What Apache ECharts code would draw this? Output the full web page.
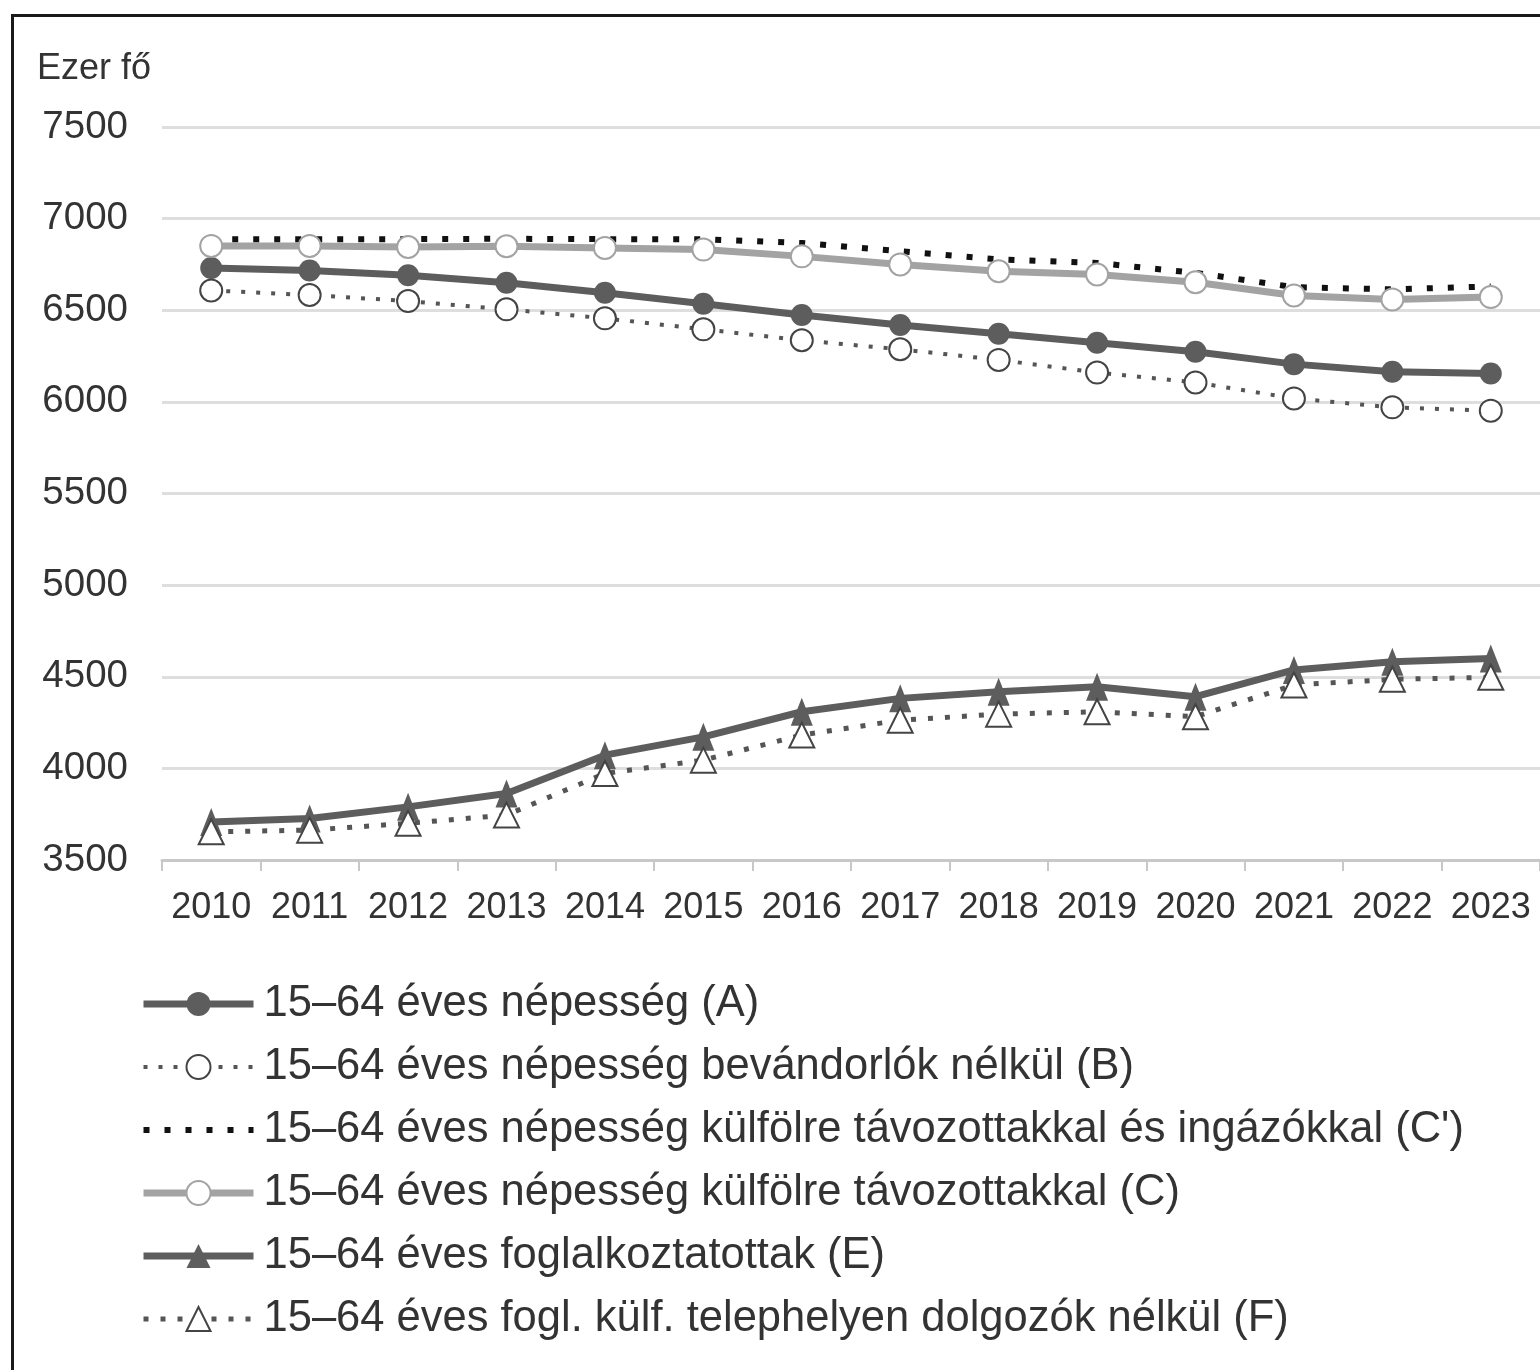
<!DOCTYPE html>
<html>
<head>
<meta charset="utf-8">
<script src="https://cdn.jsdelivr.net/npm/echarts@6/dist/echarts.min.js"></script>
<style>
html,body{margin:0;padding:0;background:#fff;overflow:hidden;}
#frame{position:absolute;left:11px;top:14px;width:1600px;height:1400px;border:3px solid #1a1a1a;box-sizing:border-box;}
#chart{position:absolute;left:0;top:0;width:1540px;height:1370px;}
</style>
</head>
<body>
<div id="frame"></div>
<div id="chart"></div>
<script>
const years = ['2010','2011','2012','2013','2014','2015','2016','2017','2018','2019','2020','2021','2022','2023'];
const yTicks = [3500, 4000, 4500, 5000, 5500, 6000, 6500, 7000, 7500];
const unitLabel = 'Ezer fő';
const nameA = '15–64 éves népesség (A)';
const nameB = '15–64 éves népesség bevándorlók nélkül (B)';
const nameCp = "15–64 éves népesség külfölre távozottakkal és ingázókkal (C')";
const nameC = '15–64 éves népesség külfölre távozottakkal (C)';
const nameE = '15–64 éves foglalkoztatottak (E)';
const nameF = '15–64 éves fogl. külf. telephelyen dolgozók nélkül (F)';
const seriesA  = [6731, 6717, 6691, 6650, 6595, 6535, 6474, 6420, 6372, 6323, 6274, 6206, 6164, 6155];
const seriesB  = [6608, 6583, 6550, 6505, 6456, 6396, 6336, 6287, 6229, 6160, 6106, 6019, 5970, 5952];
const seriesCp = [6888, 6888, 6888, 6890, 6888, 6887, 6867, 6822, 6777, 6758, 6704, 6626, 6614, 6630];
const seriesC  = [6851, 6851, 6845, 6849, 6840, 6831, 6794, 6750, 6713, 6695, 6653, 6581, 6559, 6572];
const seriesE  = [3708, 3727, 3790, 3863, 4072, 4172, 4309, 4382, 4418, 4445, 4391, 4537, 4582, 4600];
const seriesF  = [3654, 3663, 3700, 3745, 3972, 4045, 4182, 4263, 4296, 4309, 4282, 4455, 4486, 4497];

const FONT = 'Liberation Sans, Arial, sans-serif';
const chart = echarts.init(document.getElementById('chart'), null, {renderer:'canvas'});
const option = {
  animation: false,
  backgroundColor: 'transparent',
  title: {
    text: unitLabel, left: 32, top: 46,
    textStyle: {fontFamily: FONT, fontSize: 36, fontWeight: 'normal', color: '#333'}
  },
  grid: {left: 162, top: 127, width: 1380, height: 733, containLabel: false},
  xAxis: {
    type: 'category', data: years, boundaryGap: true,
    axisLine: {show: true, lineStyle: {color: '#c8c8c8', width: 3}},
    axisTick: {show: true, length: 11, lineStyle: {color: '#c8c8c8', width: 2}},
    axisLabel: {fontFamily: FONT, fontSize: 36, color: '#333', margin: 30, interval: 0}
  },
  yAxis: {
    type: 'value', min: yTicks[0], max: yTicks[yTicks.length-1], interval: 500,
    axisLine: {show: false}, axisTick: {show: false},
    axisLabel: {fontFamily: FONT, fontSize: 38.5, color: '#333', margin: 34, formatter: v => String(v)},
    splitLine: {lineStyle: {color: '#dedede', width: 3}}
  },
  legend: {
    orient: 'vertical', left: 135, top: 977,
    itemWidth: 110, itemHeight: 30, itemGap: 19,
    lineStyle: {width: 'inherit', type: 'inherit'},
    data: [
      {name: nameA}, {name: nameB},
      {name: nameCp, itemStyle: {opacity: 0}},
      {name: nameC}, {name: nameE}, {name: nameF}
    ],
    textStyle: {fontFamily: FONT, fontSize: 43.5, color: '#333', lineHeight: 44, padding: [0,0,0,5]}
  },
  series: [
    {name: nameA, type: 'line', data: seriesA, symbol: 'circle', symbolSize: 22,
     itemStyle: {color: '#5d5d5d'}, lineStyle: {color: '#5d5d5d', width: 7}},
    {name: nameB, type: 'line', data: seriesB, symbol: 'emptyCircle', symbolSize: 22,
     itemStyle: {color: '#444', borderColor: '#444', borderWidth: 2.5},
     lineStyle: {color: '#555', width: 4, type: [4, 11]}},
    {name: nameC, type: 'line', data: seriesC, symbol: 'emptyCircle', symbolSize: 22,
     itemStyle: {color: '#a3a3a3', borderColor: '#a3a3a3', borderWidth: 2.5},
     lineStyle: {color: '#a3a3a3', width: 7}},
    {name: nameCp, type: 'line', data: seriesCp, symbol: 'none',
     itemStyle: {color: '#111'},
     lineStyle: {color: '#111', width: 6, type: [6, 15]}},
    {name: nameE, type: 'line', data: seriesE, symbol: 'triangle', symbolSize: [22, 28],
     itemStyle: {color: '#5d5d5d'}, lineStyle: {color: '#5d5d5d', width: 7}},
    {name: nameF, type: 'line', data: seriesF, symbol: 'emptyTriangle', symbolSize: [25, 25],
     itemStyle: {color: '#444', borderColor: '#444', borderWidth: 2.5},
     lineStyle: {color: '#555', width: 5, type: [5, 12]}}
  ]
};
chart.setOption(option);
</script>
</body>
</html>
